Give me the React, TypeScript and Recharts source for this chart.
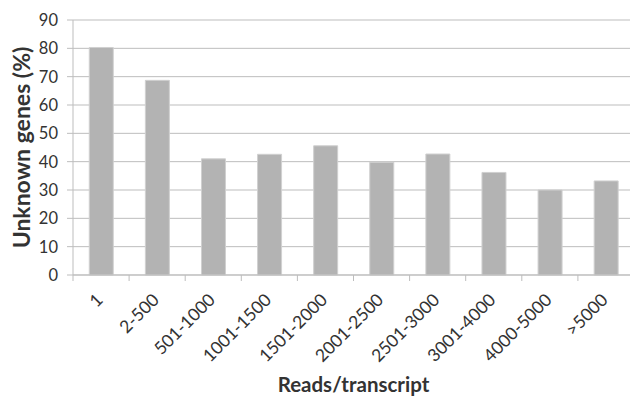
import React from "react";
import { BarChart, Bar, XAxis, YAxis, CartesianGrid, Label } from "recharts";

const categories = ["1", "2-500", "501-1000", "1001-1500", "1501-2000", "2001-2500", "2501-3000", "3001-4000", "4000-5000", ">5000"];
const unknownPct = [80.3, 68.7, 41, 42.6, 45.6, 39.8, 42.7, 36.2, 30, 33.2];
const yTicks = [0, 10, 20, 30, 40, 50, 60, 70, 80, 90];

const data = categories.map((c, i) => ({ cat: c, value: unknownPct[i] }));

const FONT = "Lato, 'Open Sans', sans-serif";
const TEXT = "#333333";
const GRID = "#bdbdbd";

const CHART_W = 636;
const CHART_H = 398;
const X_H = 123;
const M = { top: 20, right: 2, left: 0, bottom: 0 };
const Y_W = 73;
const BAND = (CHART_W - M.left - M.right - Y_W) / categories.length;

const XTick = (props: any) => {
  const { x, y, payload } = props;
  const tx = x + 3;
  const ty = y + 18;
  return (
    <g>
      <line x1={x - BAND / 2} x2={x - BAND / 2} y1={y - 8} y2={y - 2} stroke={GRID} strokeWidth={1} />
      <text
        x={tx}
        y={ty}
        textAnchor="end"
        fill={TEXT}
        fontFamily={FONT}
        fontSize={17.5}
        transform={`rotate(-45, ${tx}, ${ty})`}
      >
        {payload.value}
      </text>
    </g>
  );
};

export default function App() {
  return (
    <div style={{ position: "absolute", left: 0, top: 0, width: 630, height: 398, overflow: "hidden", background: "#fff" }}>
      <BarChart width={CHART_W} height={CHART_H} data={data} margin={M} barCategoryGap="29%">
        <CartesianGrid vertical={false} stroke={GRID} strokeWidth={1} />
        <XAxis
          dataKey="cat"
          stroke={GRID}
          tickLine={false}
          interval={0}
          tick={<XTick />}
          height={X_H}
        >
          <Label
            value="Reads/transcript"
            position="insideBottom"
            offset={6}
            style={{ fontFamily: FONT, fontSize: 20.5, fontWeight: 700, fill: TEXT }}
          />
        </XAxis>
        <YAxis
          width={Y_W}
          domain={[0, 90]}
          ticks={yTicks}
          interval={0}
          stroke={GRID}
          tickLine={{ stroke: GRID }}
          tickSize={6}
          tickMargin={9}
          tick={{ fill: TEXT, fontFamily: FONT, fontSize: 16.5 }}
        >
          <Label
            value="Unknown genes (%)"
            angle={-90}
            position="insideLeft"
            offset={22}
            style={{ textAnchor: "middle", fontFamily: FONT, fontSize: 23, fontWeight: 700, fill: TEXT }}
          />
        </YAxis>
        <Bar dataKey="value" fill="#b3b3b3" stroke="#d0d0d0" strokeWidth={1} isAnimationActive={false} />
      </BarChart>
    </div>
  );
}
